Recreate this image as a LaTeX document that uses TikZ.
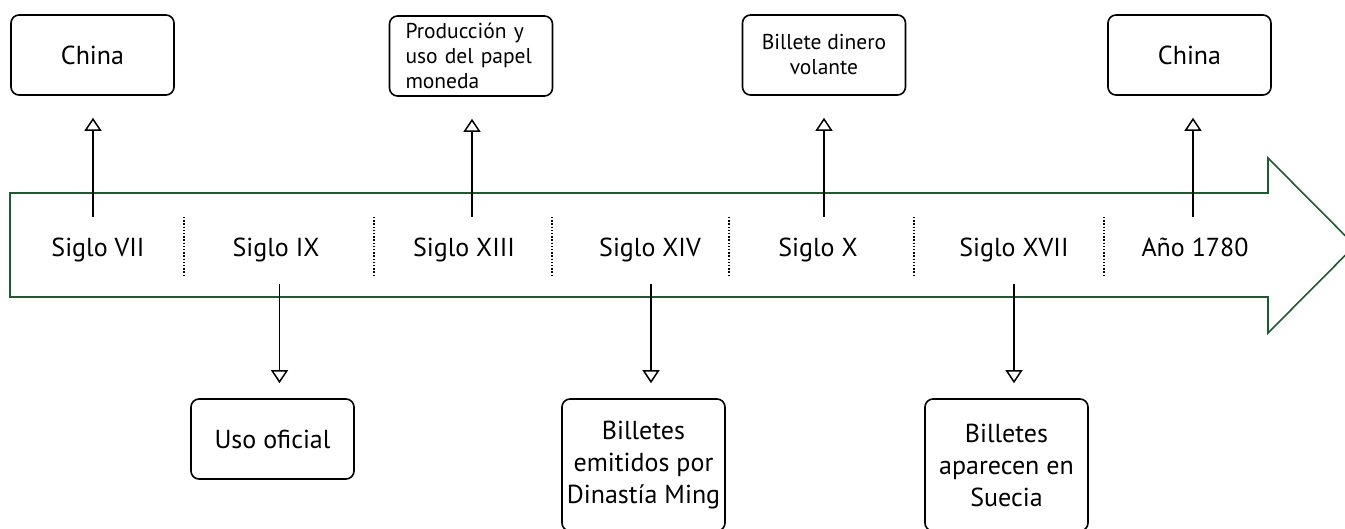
\documentclass[tikz,border=0pt]{standalone}
\usepackage{fontspec}
\setmainfont{PT Sans}
\usetikzlibrary{arrows.meta}
\definecolor{arrowgreen}{RGB}{28,92,48}
\tikzset{
  evbox/.style={draw=black, line width=1.6pt, rounded corners=8pt, minimum width=163pt, inner sep=0pt, align=center},
  bigtxt/.style={font=\fontsize{26}{32}\selectfont},
  smalltxt/.style={font=\fontsize{21.5}{25}\selectfont},
  yearlbl/.style={inner sep=0pt, minimum height=67pt, text height=19pt, text depth=6pt, font=\fontsize{26}{32}\selectfont},
  conn/.style={line width=1.5pt, -{Triangle[open, length=13pt, width=17pt, line width=1.5pt]}},
  upconn/.style={conn, shorten >=22pt},
  downconn/.style={conn, shorten >=15pt},
  sep/.style={line width=1.6pt, dash pattern=on 1.5pt off 1.7pt, black}
}
\begin{document}
\begin{tikzpicture}[x=1pt, y=-1pt]
\useasboundingbox (0,0) rectangle (1345,529);
\begin{scope}
\clip (0,0) rectangle (1345,529);
% big green arrow
\draw[arrowgreen, line width=1.6pt, line join=miter]
  (10,193) -- (1268,193) -- (1268,158) -- (1355,245.5) -- (1268,333) -- (1268,297) -- (10,297) -- cycle;
% dotted separators
\foreach \sx in {184,374,552,729,914,1104}
  \draw[sep] (\sx,217) -- (\sx,277);
% year labels
\node[yearlbl] (t1) at (98,250.5) {Siglo VII};
\node[yearlbl] (t2) at (276,250.5) {Siglo IX};
\node[yearlbl] (t3) at (464,250.5) {Siglo XIII};
\node[yearlbl] (t4) at (650,250.5) {Siglo XIV};
\node[yearlbl] (t5) at (818,250.5) {Siglo X};
\node[yearlbl] (t6) at (1014,250.5) {Siglo XVII};
\node[yearlbl] (t7) at (1195,250.5) {Año 1780};
% top boxes
\node[evbox, bigtxt, minimum height=80pt] (b1) at (92.5,55) {China};
\node[evbox, smalltxt, minimum height=80pt, text width=131pt, inner xsep=16pt, align=left] (b3) at (471,56) {Producción y\\uso del papel\\moneda};
\node[evbox, smalltxt, minimum height=80pt] (b5) at (824,55) {Billete dinero\\volante};
\node[evbox, bigtxt, minimum height=80pt] (b7) at (1189.5,55) {China};
% bottom boxes
\node[evbox, bigtxt, minimum height=80pt] (b2) at (272.5,439) {Uso oficial};
\node[evbox, bigtxt, minimum height=132pt] (b4) at (643.5,465) {Billetes\\emitidos por\\Dinastía Ming};
\node[evbox, bigtxt, minimum height=132pt] (b6) at (1006.5,465) {Billetes\\aparecen en\\Suecia};
% connectors
\draw[upconn] ([xshift=-5pt]t1.north) -- ([xshift=0.5pt]b1.south);
\draw[upconn] ([xshift=8pt]t3.north) -- ([xshift=1pt]b3.south);
\draw[upconn] ([xshift=6pt]t5.north) -- ([xshift=0pt]b5.south);
\draw[upconn] ([xshift=-2pt]t7.north) -- ([xshift=3.5pt]b7.south);
\draw[downconn] ([xshift=3.5pt]t2.south) -- ([xshift=7pt]b2.north);
\draw[downconn] ([xshift=1pt]t4.south) -- ([xshift=7.5pt]b4.north);
\draw[downconn] ([xshift=0pt]t6.south) -- ([xshift=7.5pt]b6.north);
\end{scope}
\end{tikzpicture}
\end{document}
